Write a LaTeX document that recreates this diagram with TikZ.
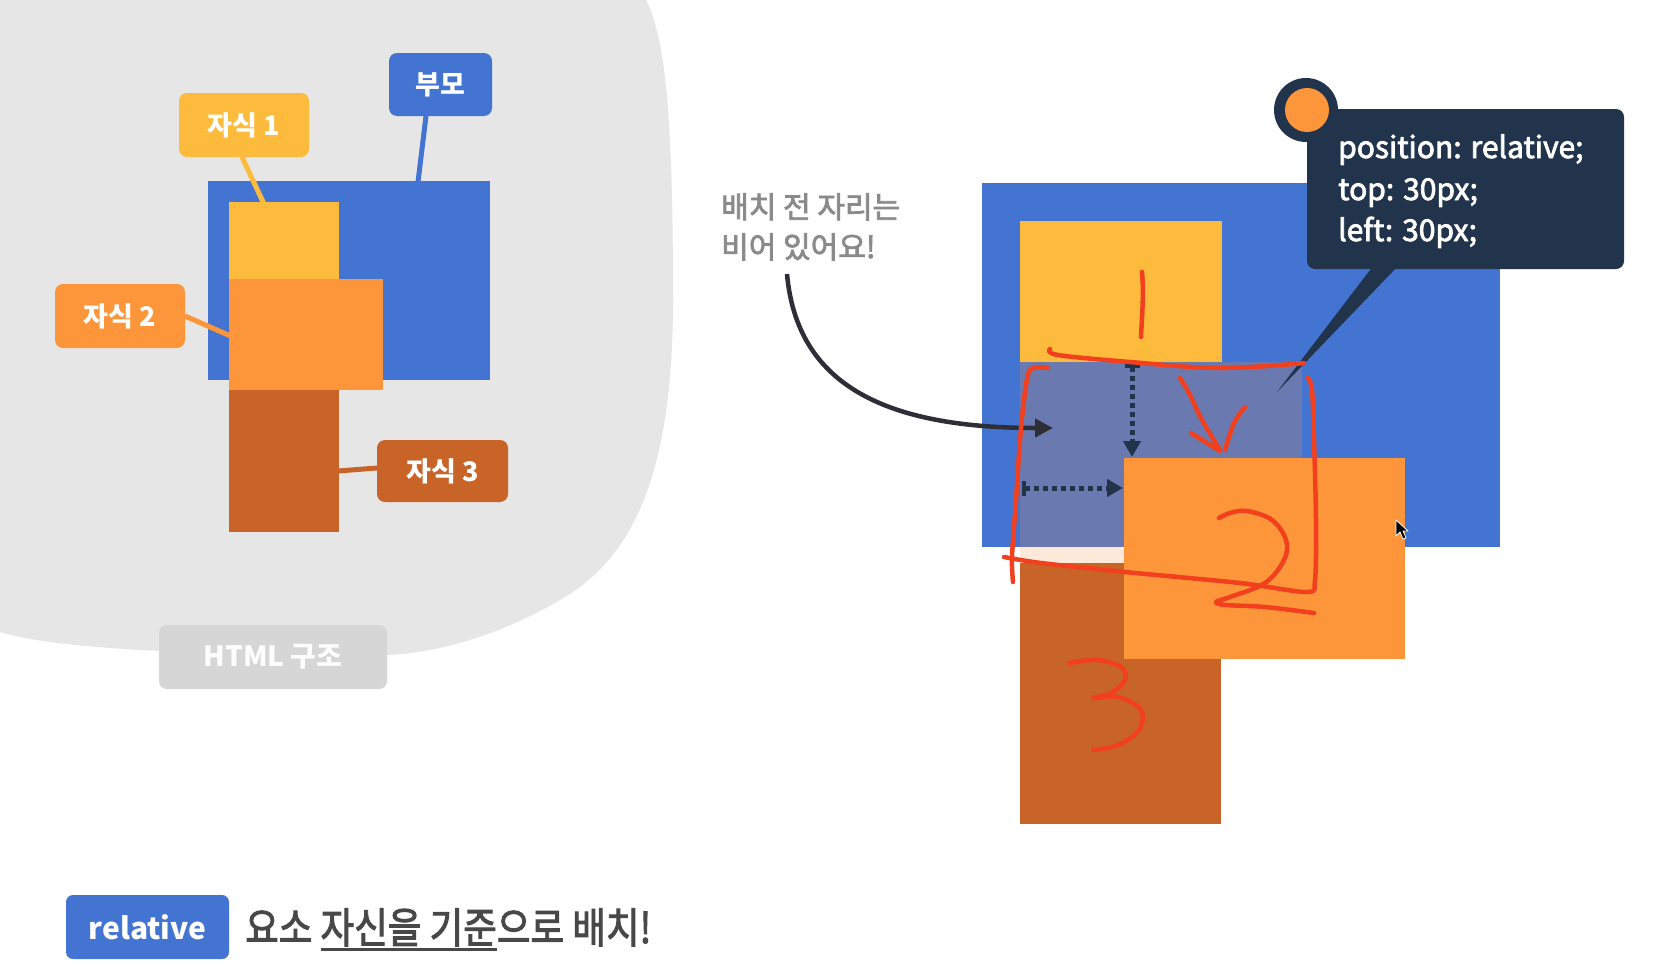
\documentclass[tikz,border=0pt]{standalone}
\usepackage{fontspec}
\usepackage{graphicx}
\setmainfont{Noto Sans CJK KR}
\newfontfamily\krmed[FakeBold=2.5]{Noto Sans CJK KR}
\usetikzlibrary{arrows.meta,calc}
\definecolor{pblue}{HTML}{4474D2}
\definecolor{cyel}{HTML}{FDBB3D}
\definecolor{corg}{HTML}{FD963A}
\definecolor{cbrn}{HTML}{C86428}
\definecolor{ghost}{HTML}{6A7AB0}
\definecolor{peach}{HTML}{FDE9D9}
\definecolor{navy}{HTML}{21344C}
\definecolor{inkred}{HTML}{F2401E}
\definecolor{blobgray}{HTML}{E6E6E6}
\definecolor{htmlgray}{HTML}{D6D6D6}
\definecolor{notegray}{HTML}{8A8A8A}
\definecolor{bodygray}{HTML}{484848}
\definecolor{arrowgray}{HTML}{2E2F36}
\newcommand\ulbox[1]{\setbox0=\hbox{#1}\rlap{\rule[-7.5pt]{\wd0}{2.5pt}}\box0}
\begin{document}
\begin{tikzpicture}[x=1pt,y=-1pt,
  lbl/.style={rounded corners=8pt, inner sep=0pt, text=white, font=\fontsize{27}{30}\selectfont\bfseries},
  conn/.style={line width=5pt},
  redink/.style={draw=inkred, line width=4.5pt, line cap=round, line join=round},
  dotarrow/.style={draw=navy, line width=5pt, dash pattern=on 5pt off 4pt, {Bar[width=15pt,line width=4pt]}-{Triangle[length=16pt,width=17pt]}},
  ttxt/.style={anchor=base west, inner sep=0pt, text=white, font=\krmed\fontsize{30}{36}\selectfont},
  ntxt/.style={anchor=base west, inner sep=0pt, text=notegray, font=\krmed\fontsize{30}{36}\selectfont},
]
\useasboundingbox (0,0) rectangle (1657,964);
\fill[white] (0,0) rectangle (1657,964);

% ---------- left: HTML structure ----------
\fill[blobgray] (0,0) -- (646,0) .. controls (666,40) and (673,120) .. (673,300)
  .. controls (673,480) and (630,560) .. (560,600)
  .. controls (500,635) and (440,652) .. (390,655) -- (160,651)
  .. controls (80,647) and (30,641) .. (0,632) -- cycle;

\fill[pblue] (208,181) rectangle (490,380);

\node[lbl, fill=pblue, minimum width=103pt, minimum height=63pt] (lblP) at (440.5,84.5) {부모};
\node[lbl, fill=cyel, minimum width=130pt, minimum height=64pt] (lblA) at (244,125) {자식 1};
\node[lbl, fill=corg, minimum width=130pt, minimum height=64pt] (lblB) at (120,316) {자식 2};
\node[lbl, fill=cbrn, minimum width=131pt, minimum height=62pt] (lblC) at (442.5,471) {자식 3};

\coordinate (sP) at (426,116); \coordinate (eP) at (418,182);
\coordinate (sA) at (242,157); \coordinate (eA) at (264,204);
\coordinate (sB) at (185,316); \coordinate (eB) at (258,348);
\coordinate (sC) at (377,468); \coordinate (eC) at (338,471);
\draw[conn, pblue] (sP) -- (eP);
\draw[conn, cyel] (sA) -- (eA);
\draw[conn, corg] (sB) -- (eB);

\fill[cyel] (229,202) rectangle (339,279);
\fill[corg] (229,279) rectangle (383,390);
\fill[cbrn] (229,390) rectangle (339,532);
\draw[conn, cbrn] (sC) -- (eC);

\node[lbl, fill=htmlgray, text=white!96!htmlgray, minimum width=228pt, minimum height=64pt, font=\fontsize{28}{30}\selectfont\bfseries] (lblH) at (273,657) {HTML 구조};

% ---------- bottom caption ----------
\node[lbl, fill=pblue, rounded corners=7pt, minimum width=163pt, minimum height=64pt, font=\fontsize{30}{34}\selectfont\bfseries] (rel) at (147.5,927) {relative};
\node[anchor=base west, inner sep=0pt, text=bodygray] (msg) at (245,943)
  {\scalebox{0.87}[1]{\krmed\fontsize{42}{46}\selectfont 요소 \ulbox{자신을 기준}으로 배치!}};

% ---------- right: relative positioning ----------
\fill[pblue] (982,183) rectangle (1500,547);
\fill[cyel] (1020,221) rectangle (1222,362);
\fill[ghost] (1020,362) rectangle (1302,547);
\fill[peach] (1020,547) rectangle (1124,563);
\fill[cbrn] (1020,563) rectangle (1221,824);
\fill[corg] (1124,458) rectangle (1405,659);

\coordinate (vS) at (1132,364); \coordinate (vE) at (1132,457);
\coordinate (hS) at (1022,488); \coordinate (hE) at (1123,488);
\draw[dotarrow] (vS) -- (vE);
\draw[dotarrow] (hS) -- (hE);

\node[ntxt] (note1) at (721,218) {배치 전 자리는};
\node[ntxt] (note2) at (721,258) {비어 있어요!};
\coordinate (aS) at (787,274); \coordinate (aE) at (1053,428);
\draw[arrowgray, line width=4.5pt, -{Triangle[length=18pt,width=18pt]}] (aS) .. controls (797,385) and (885,428) .. (aE);

% tooltip
\fill[navy] (1373,266) -- (1277,392) -- (1398,266) -- cycle;
\fill[navy, rounded corners=8pt] (1307,109) rectangle (1624,269);
\fill[navy] (1306,110) circle (32);
\fill[corg] (1307,110) circle (22);
\node[ttxt] (tt1) at (1338,158) {position: relative;};
\node[ttxt] (tt2) at (1338,200) {top: 30px;};
\node[ttxt] (tt3) at (1338,241) {left: 30px;};

% hand-drawn red ink
\draw[redink] (1142,272) .. controls (1144,295) and (1142,315) .. (1141,337);
\draw[redink] plot[smooth, tension=0.6] coordinates {(1050,349) (1058,355) (1130,362) (1220,368) (1304,363)};
\draw[redink] plot[smooth, tension=0.5] coordinates {(1048,368) (1030,370) (1024,400) (1020,440) (1016,500) (1012,557) (1013,582)};
\draw[redink] plot[smooth, tension=0.5] coordinates {(1004,557) (1041,563) (1125,572) (1240,583) (1307,592) (1315,580) (1316,520) (1314,440) (1312,390) (1308,378)};
\draw[redink] plot[smooth, tension=0.6] coordinates {(1180,378) (1189,393) (1202,420) (1220,450)};
\draw[redink] plot[smooth, tension=0.6] coordinates {(1245,407) (1234,423) (1225,450)};
\draw[redink] (1191,433) -- (1220,451);
\draw[redink] plot[smooth, tension=0.6] coordinates {(1219,518) (1230,513) (1247,511) (1272,520) (1286,540) (1284,560) (1265,583) (1230,597) (1216,602) (1226,605) (1265,607) (1314,613)};
\draw[redink] plot[smooth, tension=0.6] coordinates {(1069,663) (1097,660) (1121,667) (1125,680) (1111,693) (1093,698) (1118,697) (1141,710) (1139,730) (1118,745) (1093,750)};

% mouse cursor
\draw[white, fill=black, line width=0.8pt, line join=round] (1396,520) -- (1396,536) -- (1400,532) -- (1403,539) -- (1406,538) -- (1403,531) -- (1408,531) -- cycle;
\end{tikzpicture}
\end{document}
